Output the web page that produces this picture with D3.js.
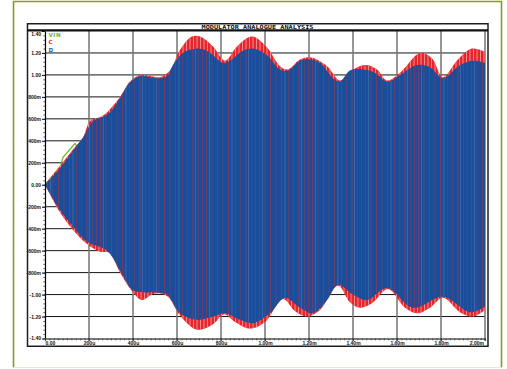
<!DOCTYPE html>
<html>
<head>
<meta charset="utf-8">
<script src="https://cdn.jsdelivr.net/npm/d3@7"></script>
<style>
  html, body { margin: 0; padding: 0; background: #fff; }
  svg { display: block; }
</style>
</head>
<body>
<svg id="chart" width="507" height="369"></svg>
<script>
// ---- data -------------------------------------------------------------
const chartTitle = "MODULATOR ANALOGUE ANALYSIS";
const legendNames = ["VIN", "C", "D"];

// time axis in microseconds
const xTickValues = [0, 200, 400, 600, 800, 1000, 1200, 1400, 1600, 1800, 2000];
const xTickLabels = ["0.00", "200u", "400u", "600u", "800u", "1.00m", "1.20m", "1.40m", "1.60m", "1.80m", "2.00m"];
const yTickValues = [1.4, 1.2, 1.0, 0.8, 0.6, 0.4, 0.2, 0, -0.2, -0.4, -0.6, -0.8, -1.0, -1.2, -1.4];
const yTickLabels = ["1.40", "1.20", "1.00", "800m", "600m", "400m", "200m", "0.00",
                     "-200m", "-400m", "-600m", "-800m", "-1.00", "-1.20", "-1.40"];

// input trace (only its leading edge rises above the other two)
const vinTrace = [[0, 0], [70, 0.165], [82, 0.25], [136, 0.375], [146, 0.35], [200, 0.45], [260, 0.55]];

// C: carrier envelope, positive and negative peaks  [time µs, volts]
const cUpper = [[0, 0], [68, 0.17], [127, 0.32], [173, 0.43], [205, 0.58], [264, 0.63], [341, 0.80],
  [386, 0.94], [432, 1.00], [477, 0.99], [523, 0.98], [568, 1.04], [614, 1.23], [668, 1.35],
  [705, 1.35], [764, 1.26], [818, 1.13], [873, 1.26], [941, 1.35], [1009, 1.25], [1068, 1.08],
  [1105, 1.05], [1159, 1.14], [1205, 1.16], [1282, 1.08], [1341, 0.95], [1395, 1.04], [1455, 1.09],
  [1509, 1.05], [1555, 0.95], [1614, 1.02], [1705, 1.20], [1759, 1.15], [1809, 0.98], [1877, 1.14],
  [1941, 1.24], [2000, 1.21]];
const cLower = [[0, 0], [68, -0.25], [127, -0.41], [191, -0.54], [250, -0.61], [295, -0.62], [341, -0.80],
  [400, -0.98], [441, -1.05], [486, -1.00], [523, -0.99], [559, -1.02], [614, -1.19], [691, -1.32],
  [764, -1.27], [814, -1.18], [864, -1.25], [932, -1.31], [1000, -1.25], [1082, -1.04], [1136, -1.15],
  [1191, -1.20], [1250, -1.14], [1332, -0.92], [1386, -1.07], [1432, -1.12], [1486, -1.08],
  [1559, -0.95], [1636, -1.12], [1691, -1.17], [1750, -1.12], [1809, -1.03], [1886, -1.16],
  [1945, -1.20], [2000, -1.14]];

// D: output envelope, positive and negative peaks  [time µs, volts]
const dUpper = [[0, 0], [68, 0.15], [127, 0.31], [173, 0.43], [218, 0.58], [264, 0.62], [295, 0.66],
  [341, 0.79], [386, 0.93], [432, 0.99], [477, 0.98], [523, 0.97], [555, 0.99], [582, 1.09],
  [627, 1.20], [691, 1.24], [736, 1.22], [764, 1.18], [809, 1.11], [841, 1.13], [900, 1.22],
  [945, 1.24], [1009, 1.18], [1068, 1.05], [1105, 1.04], [1159, 1.13], [1205, 1.14], [1250, 1.11],
  [1309, 0.97], [1341, 0.94], [1386, 1.04], [1445, 1.05], [1500, 1.02], [1555, 0.94], [1614, 1.00],
  [1691, 1.09], [1750, 1.07], [1809, 0.97], [1886, 1.09], [1945, 1.13], [2000, 1.11]];
const dLower = [[0, 0], [68, -0.23], [127, -0.38], [191, -0.52], [282, -0.60], [341, -0.78],
  [400, -0.96], [455, -0.98], [509, -0.98], [555, -1.00], [614, -1.17], [691, -1.23], [764, -1.20],
  [818, -1.17], [886, -1.23], [945, -1.26], [1023, -1.17], [1091, -1.03], [1159, -1.12],
  [1218, -1.17], [1282, -1.05], [1332, -0.91], [1400, -1.00], [1464, -1.05], [1555, -0.94],
  [1673, -1.12], [1809, -1.02], [1932, -1.16], [2000, -1.11]];

// ---- drawing ----------------------------------------------------------
const W = 507, H = 369;
const svg = d3.select("#chart");
const LABEL_FONT = "'Liberation Sans', Arial, sans-serif";

const x = d3.scaleLinear().domain([0, 2000]).range([45, 485]);
const y = d3.scaleLinear().domain([-1.4, 1.4]).range([338.5, 31]);

svg.append("rect").attr("width", W).attr("height", H).attr("fill", "#fff");

// outer page frame
svg.append("path")
  .attr("d", "M13.5,367.5 L13.5,1.5 L501.5,1.5 L501.5,367.5")
  .attr("fill", "none").attr("stroke", "#8d9723").attr("stroke-width", 1.6);
svg.append("line").attr("x1", 13.5).attr("x2", 501.5).attr("y1", 367.5).attr("y2", 367.5)
  .attr("stroke", "#e4e9d2").attr("stroke-width", 1.2);

// stripe patterns that give the carrier traces their hatched look
const defs = svg.append("defs");
const cHatch = defs.append("pattern").attr("id", "cHatch")
  .attr("patternUnits", "userSpaceOnUse").attr("x", 45).attr("y", 0)
  .attr("width", 7).attr("height", H);
[1, 4.5].forEach(o => cHatch.append("rect").attr("x", o).attr("y", 0)
  .attr("width", 1).attr("height", H).attr("fill", "#f6a3a6").attr("opacity", 0.8));

const dHatch = defs.append("pattern").attr("id", "dHatch")
  .attr("patternUnits", "userSpaceOnUse").attr("x", 45).attr("y", 0)
  .attr("width", 53).attr("height", H);
[[2, 0.5], [7.5, 0.3], [13, 0.55], [18.5, 0.35], [24, 0.5], [31, 0.4], [36, 0.3], [41.5, 0.55], [47, 0.35], [51, 0.45]]
  .forEach(([o, a]) =>
    dHatch.append("rect").attr("x", o).attr("y", 0).attr("width", 0.9).attr("height", H)
      .attr("fill", "#c92a38").attr("opacity", a));
[5, 27.5, 44].forEach(o => dHatch.append("rect").attr("x", o).attr("y", 0).attr("width", 0.9)
  .attr("height", H).attr("fill", "#7ea6dc").attr("opacity", 0.3));

// gridlines
const grid = svg.append("g");
grid.selectAll("line.h").data(yTickValues.filter(v => Math.abs(v) < 1.39)).join("line")
  .attr("class", "h")
  .attr("x1", 45).attr("x2", 485).attr("y1", d => y(d)).attr("y2", d => y(d))
  .attr("stroke", "#151515").attr("stroke-width", 1);
grid.selectAll("line.v").data(xTickValues.slice(1)).join("line")
  .attr("class", "v")
  .attr("x1", d => x(d)).attr("x2", d => x(d)).attr("y1", 31).attr("y2", 341)
  .attr("stroke", "#737373").attr("stroke-width", 1.5);

// traces
const edge = d3.line().x(d => x(d[0])).y(d => y(d[1])).curve(d3.curveCatmullRom.alpha(0.5));
function envelopePath(upper, lower) {
  const top = edge(upper);
  const bottom = edge(lower.slice().reverse());
  return top + "L" + bottom.slice(1) + "Z";
}

svg.append("path").attr("d", d3.line().x(d => x(d[0])).y(d => y(d[1]))(vinTrace))
  .attr("fill", "none").attr("stroke", "#74b72a").attr("stroke-width", 1.3);

const cPath = envelopePath(cUpper, cLower);
svg.append("path").attr("d", cPath).attr("fill", "#e6262c");
svg.append("path").attr("d", cPath).attr("fill", "url(#cHatch)");

const dPath = envelopePath(dUpper, dLower);
svg.append("path").attr("d", dPath).attr("fill", "#1b4e9a");
svg.append("path").attr("d", dPath).attr("fill", "url(#dHatch)");

// axes
const yAxis = svg.append("g").attr("transform", "translate(45,0)")
  .call(d3.axisLeft(y).tickValues(yTickValues)
    .tickFormat((d, i) => yTickLabels[i]).tickSizeInner(3).tickSizeOuter(0).tickPadding(1));
yAxis.select(".domain").attr("stroke", "#000").attr("stroke-width", 1.2);
yAxis.selectAll(".tick line").attr("stroke", "#000").attr("stroke-width", 1);
yAxis.selectAll(".tick text")
  .attr("font-family", LABEL_FONT).attr("font-size", 5).attr("font-weight", "bold").attr("fill", "#111")
  .attr("dy", (d) => (d > 1.39 ? "0.95em" : d < -1.39 ? "0.1em" : "0.34em"));

svg.append("g").attr("transform", "translate(45,0)")
  .call(d3.axisLeft(y).tickValues(d3.range(-1.4, 1.401, 0.04)).tickFormat("").tickSize(1.6))
  .call(g => g.select(".domain").remove())
  .selectAll(".tick line").attr("stroke", "#333").attr("stroke-width", 0.8);

const xAxis = svg.append("g").attr("transform", "translate(0,338.5)")
  .call(d3.axisBottom(x).tickValues(xTickValues)
    .tickFormat((d, i) => xTickLabels[i]).tickSizeInner(2.5).tickSizeOuter(0).tickPadding(0.5));
xAxis.select(".domain").attr("stroke", "#000").attr("stroke-width", 1.2);
xAxis.selectAll(".tick line").attr("stroke", "#555").attr("stroke-width", 1.2);
xAxis.selectAll(".tick text")
  .attr("font-family", LABEL_FONT).attr("font-size", 5).attr("font-weight", "bold").attr("fill", "#111")
  .attr("text-anchor", d => (d === 0 ? "start" : d === 2000 ? "end" : "middle"))
  .attr("dx", d => (d === 2000 ? "-0.3em" : "0"));

svg.append("g").attr("transform", "translate(0,338.5)")
  .call(d3.axisBottom(x).tickValues(d3.range(0, 2001, 20)).tickFormat("").tickSize(1.8))
  .call(g => g.select(".domain").remove())
  .selectAll(".tick line").attr("stroke", "#333").attr("stroke-width", 0.8);

// panel frame and title bar
svg.append("rect").attr("x", 27.5).attr("y", 23.75).attr("width", 460.5).attr("height", 322.5)
  .attr("fill", "none").attr("stroke", "#1e1e1e").attr("stroke-width", 1.5);
svg.append("line").attr("x1", 27.5).attr("x2", 488).attr("y1", 30.3).attr("y2", 30.3)
  .attr("stroke", "#111").attr("stroke-width", 2.2);
svg.append("text").attr("x", 257.5).attr("y", 28.9)
  .attr("text-anchor", "middle")
  .attr("font-family", "'DejaVu Sans Mono', monospace").attr("font-size", 5.6).attr("font-weight", "bold")
  .attr("textLength", 112).attr("lengthAdjust", "spacingAndGlyphs")
  .attr("fill", "#111").text(chartTitle);

// legend
const legendColors = ["#72b62a", "#e3262c", "#2f62b0"];
svg.append("g").selectAll("text").data(legendNames).join("text")
  .attr("x", 48.5).attr("y", (d, i) => 37.2 + i * 7.2)
  .attr("font-family", "'DejaVu Sans', sans-serif").attr("font-size", 5.6).attr("font-weight", "bold")
  .attr("letter-spacing", 0.5)
  .attr("fill", (d, i) => legendColors[i]).text(d => d);
</script>
</body>
</html>
